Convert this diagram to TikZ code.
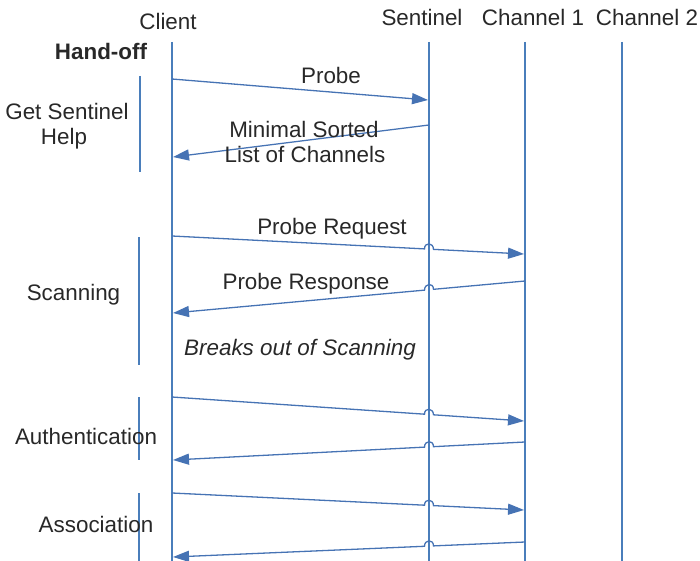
\documentclass[tikz,border=0pt]{standalone}
\usepackage{fontspec}
\setmainfont{Liberation Sans}
\usetikzlibrary{arrows.meta,calc}
\definecolor{lifeblue}{RGB}{74,126,187}
\definecolor{msgblue}{RGB}{70,115,180}
\definecolor{txt}{RGB}{40,40,40}
\begin{document}
\begin{tikzpicture}[x=1pt,y=-1pt,
  lifeline/.style={draw=lifeblue,line width=2.2pt},
  groupbar/.style={draw=lifeblue,line width=1.8pt},
  msg/.style={draw=msgblue,line width=1.3pt,-{Triangle[length=16pt,width=11pt]}},
  lbl/.style={text=txt,font=\fontsize{22.4}{27}\selectfont,inner sep=0pt,anchor=base}]
\useasboundingbox (0,0) rectangle (700,561);
% lifelines
\coordinate (c0) at (172,42); \coordinate (c1) at (172,561);
\coordinate (s0) at (429,42); \coordinate (s1) at (429,561);
\coordinate (h0) at (525,42); \coordinate (h1) at (525,561);
\coordinate (k0) at (622,42); \coordinate (k1) at (622,561);
\draw[lifeline] (c0) -- (c1);
\draw[lifeline] (s0) -- (s1);
\draw[lifeline] (h0) -- (h1);
\draw[lifeline] (k0) -- (k1);
% headers
\node[lbl] (tclient) at (168,30) {Client};
\node[lbl] (tsent) at (422,26) {Sentinel};
\node[lbl] (tch1) at (533,26) {Channel 1};
\node[lbl] (tch2) at (647,26) {Channel 2};
% group bars
\coordinate (g1a) at (140,76); \coordinate (g1b) at (140,172);
\coordinate (g2a) at (139,237); \coordinate (g2b) at (139,365);
\coordinate (g3a) at (139,397); \coordinate (g3b) at (139,460);
\coordinate (g4a) at (139,493); \coordinate (g4b) at (139,561);
\draw[groupbar] (g1a) -- (g1b);
\draw[groupbar] (g2a) -- (g2b);
\draw[groupbar] (g3a) -- (g3b);
\draw[groupbar] (g4a) -- (g4b);
% group labels
\node[lbl,font=\fontsize{22.4}{27}\selectfont\bfseries] (thand) at (101,60) {Hand-off};
\node[lbl] (tget) at (67,120) {Get Sentinel};
\node[lbl] (thelp) at (64,145) {Help};
\node[lbl] (tscan) at (73.5,300) {Scanning};
\node[lbl] (tauth) at (86,444) {Authentication};
\node[lbl] (tassoc) at (96,532) {Association};
% message 1: Probe
\coordinate (m1a) at (172,79); \coordinate (m1b) at (428,100);
\draw[msg] (m1a) -- (m1b);
\node[lbl] (tprobe) at (331,84) {Probe};
% message 2: Minimal sorted list
\coordinate (m2a) at (429,125); \coordinate (m2b) at (173,157);
\draw[msg] (m2a) -- (m2b);
\node[lbl] (tmin) at (304,138) {Minimal Sorted};
\node[lbl] (tlist) at (305,163) {List of Channels};
% hop messages
\newcommand{\hopmsg}[3]{%
  \path (intersection of #1--#2 and s0--s1) coordinate (#3);
  \draw[msg] (#1) -- ($(#3)!4.5pt!(#1)$) .. controls +(0,-7) and +(0,-7) .. ($(#3)!4.5pt!(#2)$) -- (#2);
}
\coordinate (m3a) at (172,236); \coordinate (m3b) at (524,254);
\hopmsg{m3a}{m3b}{x3}
\node[lbl] (tpreq) at (332,234) {Probe Request};
\coordinate (m4a) at (525,281); \coordinate (m4b) at (173,313);
\hopmsg{m4a}{m4b}{x4}
\node[lbl] (tpresp) at (306,289) {Probe Response};
\node[lbl,font=\fontsize{22.4}{27}\selectfont\itshape] (tbreak) at (300,355) {Breaks out of Scanning};
\coordinate (m5a) at (172,397); \coordinate (m5b) at (524,421);
\hopmsg{m5a}{m5b}{x5}
\coordinate (m6a) at (525,442); \coordinate (m6b) at (173,460);
\hopmsg{m6a}{m6b}{x6}
\coordinate (m7a) at (172,493); \coordinate (m7b) at (524,510);
\hopmsg{m7a}{m7b}{x7}
\coordinate (m8a) at (525,542); \coordinate (m8b) at (173,557);
\hopmsg{m8a}{m8b}{x8}
\end{tikzpicture}
\end{document}
